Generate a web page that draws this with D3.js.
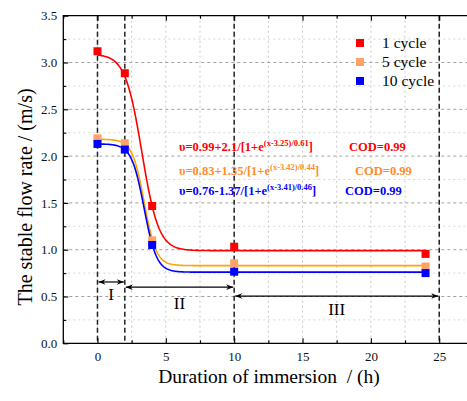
<!DOCTYPE html>
<html><head><meta charset="utf-8">
<script src="https://cdn.jsdelivr.net/npm/d3@7"></script>
<style>body{margin:0;background:#fff}svg{display:block}text{font-family:"Liberation Serif","Times New Roman",serif}</style>
</head><body><svg id="c" width="467" height="401"></svg>
<script>
// ---- data ----
const hours = [0, 2, 4, 10, 24];
const cycle1 = [3.12, 2.885, 1.467, 1.032, 0.955];
const cycle5 = [2.19, 2.137, 1.10, 0.855, 0.82];
const cycle10 = [2.13, 2.07, 1.05, 0.765, 0.75];
const seriesNames = ["1 cycle", "5 cycle", "10 cycle"];
// Boltzmann fit parameters shown in the chart: [A2, A1-A2, x0, dx]
const fit1 = [0.99, 2.1, 3.25, 0.61];
const fit5 = [0.83, 1.35, 3.42, 0.44];
const fit10 = [0.76, 1.37, 3.41, 0.46];
const eqMain = ["υ=0.99+2.1/[1+e", "υ=0.83+1.35/[1+e", "υ=0.76-1.37/[1+e"];
const eqSup = ["(x-3.25)/0.61", "(x-3.42)/0.44", "(x-3.41)/0.46"];
const cod = ["COD=0.99", "COD=0.99", "COD=0.99"];
const xTicks = [0, 5, 10, 15, 20, 25];
const xMinor = [-2.5, 2.5, 7.5, 12.5, 17.5, 22.5, 27.5];
const yTicks = [0, 0.5, 1.0, 1.5, 2.0, 2.5, 3.0, 3.5];
const yMinor = [0.25, 0.75, 1.25, 1.75, 2.25, 2.75, 3.25];
const stageLines = [0, 2, 10, 25];
const stages = [{label: "I", x0: 0, x1: 2, y: 0.655, ly: 0.46},
                {label: "II", x0: 2, x1: 10, y: 0.60, ly: 0.365},
                {label: "III", x0: 10, x1: 25, y: 0.505, ly: 0.30}];

const svg = d3.select("#c");
const L = 63.3, T = 15.7, B = 343.3;
const x = d3.scaleLinear([-2.5, 27.5], [L, L + 30 * 13.67]);
const y = d3.scaleLinear([0, 3.5], [B, T]);
const R = x(27.5);

const lineColors = ["#ff0000", "#ffa500", "#0000ff"];
const markColors = ["#ff0000", "#ffa366", "#0000ff"];
const textColors = ["#ff0000", "#ff8c26", "#0000ff"];

const defs = svg.append("defs");
defs.append("clipPath").attr("id", "clip").append("rect")
  .attr("x", L).attr("y", T).attr("width", R - L).attr("height", B - T);
defs.append("marker").attr("id", "ah").attr("viewBox", "0 0 10 10")
  .attr("refX", 10).attr("refY", 5).attr("markerWidth", 9).attr("markerHeight", 7)
  .attr("markerUnits", "userSpaceOnUse").attr("orient", "auto-start-reverse")
  .append("path").attr("d", "M0,1 L10,5 L0,9 L3,5 Z").attr("fill", "#000");

const g = svg.append("g").attr("clip-path", "url(#clip)");
// grid
g.selectAll(".gx").data(xTicks.concat(xMinor)).join("line")
  .attr("x1", d => x(d)).attr("x2", d => x(d)).attr("y1", T).attr("y2", B)
  .attr("stroke", "#c8c8c8").attr("stroke-width", 1).attr("stroke-dasharray", "2,3");
g.selectAll(".gy").data(yTicks.slice(1, -1)).join("line")
  .attr("x1", L).attr("x2", R).attr("y1", d => y(d)).attr("y2", d => y(d))
  .attr("stroke", "#a0a0a0").attr("stroke-width", 1).attr("stroke-dasharray", "3,3");
g.selectAll(".gym").data(yMinor).join("line")
  .attr("x1", L).attr("x2", R).attr("y1", d => y(d)).attr("y2", d => y(d))
  .attr("stroke", "#d8d8d8").attr("stroke-width", 1).attr("stroke-dasharray", "2,3");

// stage dashed lines
g.selectAll(".sl").data(stageLines).join("line")
  .attr("x1", d => x(d)).attr("x2", d => x(d)).attr("y1", T).attr("y2", B)
  .attr("stroke", "#222").attr("stroke-width", 1.5).attr("stroke-dasharray", "5,3");

// arrows
stages.forEach(s => {
  svg.append("line").attr("x1", x(s.x0) + 1).attr("x2", x(s.x1) - 1)
    .attr("y1", y(s.y)).attr("y2", y(s.y)).attr("stroke", "#000").attr("stroke-width", 1.2)
    .attr("marker-start", "url(#ah)").attr("marker-end", "url(#ah)");
  svg.append("text").attr("x", x((s.x0 + s.x1) / 2)).attr("y", y(s.ly))
    .attr("text-anchor", "middle").attr("font-size", 17).text(s.label);
});

// fit curves
const fits = [fit1, fit5, fit10];
const boltz = p => t => p[0] + p[1] / (1 + Math.exp((t - p[2]) / p[3]));
const xs = d3.range(0, 24.001, 0.05);
const line = d3.line().x(d => x(d[0])).y(d => y(d[1]));
fits.forEach((p, i) => {
  const f = boltz(p);
  g.append("path").datum(xs.map(t => [t, f(t)])).attr("d", line)
    .attr("fill", "none").attr("stroke", lineColors[i]).attr("stroke-width", 1.6);
});

// markers
const series = [cycle1, cycle5, cycle10];
const ms = 8;
[0, 1, 2].forEach(i => {
  g.selectAll(".m" + i).data(hours.map((h, k) => [h, series[i][k]])).join("rect")
    .attr("x", d => x(d[0]) - ms / 2).attr("y", d => y(d[1]) - ms / 2)
    .attr("width", ms).attr("height", ms).attr("fill", markColors[i]);
});

// frame
svg.append("path").attr("d", `M${R},${T}H${L}V${B}H${R}`)
  .attr("fill", "none").attr("stroke", "#000").attr("stroke-width", 1.3);

// axes
const fmt = d3.format(".1f");
const ax = (gen, tr, labels) => {
  const a = svg.append("g").attr("transform", tr).call(gen);
  a.select(".domain").remove();
  a.selectAll("line").attr("stroke", "#000").attr("stroke-width", 1.1);
  if (labels) {
    a.selectAll("text").attr("font-family", "Liberation Serif").attr("font-size", 13).attr("fill", "#111");
  } else {
    a.selectAll("text").remove();
  }
  return a;
};
ax(d3.axisBottom(x).tickValues(xTicks).tickSize(-5).tickPadding(8).tickFormat(d3.format("d")), `translate(0,${B})`, true);
ax(d3.axisBottom(x).tickValues(xMinor).tickSize(-3), `translate(0,${B})`, false);
ax(d3.axisTop(x).tickValues(xTicks).tickSize(-5), `translate(0,${T})`, false);
ax(d3.axisTop(x).tickValues(xMinor).tickSize(-3), `translate(0,${T})`, false);
ax(d3.axisLeft(y).tickValues(yTicks).tickSize(-5).tickPadding(6).tickFormat(fmt), `translate(${L},0)`, true);
ax(d3.axisLeft(y).tickValues(yMinor).tickSize(-3), `translate(${L},0)`, false);

// axis titles
svg.append("text").attr("x", 269).attr("y", 383).attr("text-anchor", "middle")
  .style("white-space", "pre").attr("font-size", 19.5).text("Duration of immersion  / (h)");
svg.append("text").attr("transform", "translate(32,197) rotate(-90)").attr("text-anchor", "middle")
  .attr("font-size", 20).text("The stable flow rate / (m/s)");

// legend
seriesNames.forEach((n, i) => {
  svg.append("rect").attr("x", 356).attr("y", 39 + i * 19).attr("width", 8).attr("height", 8)
    .attr("fill", markColors[i]);
  svg.append("text").attr("x", 382).attr("y", 48 + i * 19).attr("font-size", 15.5).text(n);
});

// equations
const eqY = [151, 175, 195];
const codX = [349, 355, 345];
eqMain.forEach((m, i) => {
  const t = svg.append("text").attr("x", 179).attr("y", eqY[i]).attr("font-size", 12.5)
    .attr("font-weight", "bold").attr("fill", textColors[i]);
  t.append("tspan").text(m);
  t.append("tspan").attr("font-size", 8.5).attr("dy", -5).text(eqSup[i]);
  t.append("tspan").attr("dy", 5).text("]");
  svg.append("text").attr("x", codX[i]).attr("y", eqY[i]).attr("font-size", 12.5)
    .attr("font-weight", "bold").attr("fill", textColors[i]).text(cod[i]);
});
</script></body></html>
